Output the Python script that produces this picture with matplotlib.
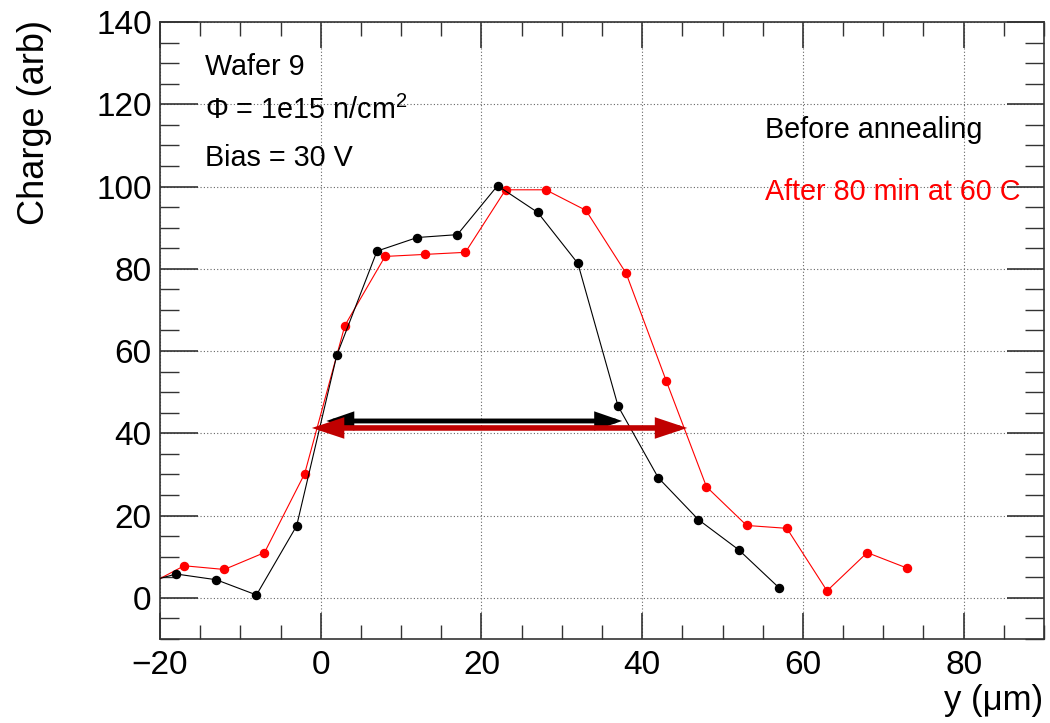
import matplotlib
matplotlib.use("Agg")
import matplotlib.pyplot as plt
from matplotlib.ticker import MultipleLocator
from matplotlib.patches import FancyArrowPatch

plt.rcParams['font.family'] = ['Liberation Sans', 'DejaVu Sans']
plt.rcParams['mathtext.fontset'] = 'custom'
plt.rcParams['mathtext.rm'] = 'Liberation Sans'

# Data
before_x = [-23, -18, -13, -8, -3, 2, 7, 12, 17, 22, 27, 32, 37, 42, 47, 52, 57]
before_y = [3.1, 5.8, 4.4, 0.7, 17.5, 59.0, 84.3, 87.6, 88.3, 100.2, 93.7, 81.3, 46.6, 29.2, 19.0, 11.7, 2.5]
after_x = [-22, -17, -12, -7, -2, 3, 8, 13, 18, 23, 28, 33, 38, 43, 48, 53, 58, 63, 68, 73]
after_y = [2.6, 7.8, 6.9, 11.0, 30.2, 66.2, 83.0, 83.5, 84.0, 99.2, 99.2, 94.2, 78.9, 52.7, 27.0, 17.6, 16.9, 1.7, 11.0, 7.2]

# arrows: (x_start, x_end, y)
arrow_before = (0.7, 37.5, 43.0)
arrow_after = (-1.1, 45.6, 41.3)

fig = plt.figure(figsize=(10.5, 7.23), dpi=100)
ax = fig.add_axes([0.1524, 0.1162, 0.8419, 0.8534])
ax.set_xlim(-20, 90)
ax.set_ylim(-10, 140)

ax.plot(after_x, after_y, color='#ff0000', lw=0.8, marker='o', ms=5.8, mec='#ff0000', mfc='#ff0000', zorder=3)
ax.plot(before_x, before_y, color='black', lw=0.8, marker='o', ms=5.8, zorder=3.5)

def dbl_arrow(x0, x1, y, color, lw, hw, hl):
    p = FancyArrowPatch((x0, y), (x1, y),
                        arrowstyle=f'<|-|>,head_width={hw},head_length={hl}',
                        mutation_scale=10, color=color, lw=lw,
                        shrinkA=0, shrinkB=0, joinstyle='miter', zorder=4)
    ax.add_patch(p)

dbl_arrow(*arrow_before, color='black', lw=3.5, hw=0.45, hl=1.3)
dbl_arrow(*arrow_after, color='#c00000', lw=4.0, hw=0.5, hl=1.5)

ax.xaxis.set_major_locator(MultipleLocator(20))
ax.xaxis.set_minor_locator(MultipleLocator(5))
ax.yaxis.set_major_locator(MultipleLocator(20))
ax.yaxis.set_minor_locator(MultipleLocator(5))
ax.grid(True, which='major', ls=(0, (1, 2)), color='#666666', lw=0.8)

ax.tick_params(axis='x', which='major', direction='in', length=19, width=1.2, top=True, labelsize=24, pad=8, color='#333333')
ax.tick_params(axis='x', which='minor', direction='in', length=10, width=1.0, top=True, color='#333333')
ax.tick_params(axis='y', which='major', direction='in', length=27, width=1.2, right=True, labelsize=24, pad=6, color='#333333')
ax.tick_params(axis='y', which='minor', direction='in', length=14, width=1.0, right=True, color='#333333')
ax.set_xticks([-20, 0, 20, 40, 60, 80])
ax.set_xticklabels(['\u221220', '0', '20', '40', '60', '80'])
for s in ax.spines.values():
    s.set_color('#333333')
    s.set_linewidth(1.2)

ax.text(-0.1222, 1.003, 'Charge (arb)', transform=ax.transAxes, fontsize=26,
        rotation=90, ha='right', va='top')
ax.text(0.999, -0.115, 'y (\u03bcm)', transform=ax.transAxes, fontsize=25,
        ha='right', va='baseline')

fs = 20.7
ax.text(0.051, 0.927, 'Wafer 9', transform=ax.transAxes, fontsize=fs, va='center', ha='left')
ax.text(0.051, 0.857, '\u03a6 = 1e15 n/cm$^{2}$', transform=ax.transAxes, fontsize=fs, va='center', ha='left')
ax.text(0.051, 0.780, 'Bias = 30 V', transform=ax.transAxes, fontsize=fs, va='center', ha='left')
ax.text(0.684, 0.825, 'Before annealing', transform=ax.transAxes, fontsize=fs, va='center', ha='left', color='black')
ax.text(0.684, 0.7245, 'After 80 min at 60 C', transform=ax.transAxes, fontsize=fs, va='center', ha='left', color='#ff0000')

fig.savefig('out.png', dpi=100)
